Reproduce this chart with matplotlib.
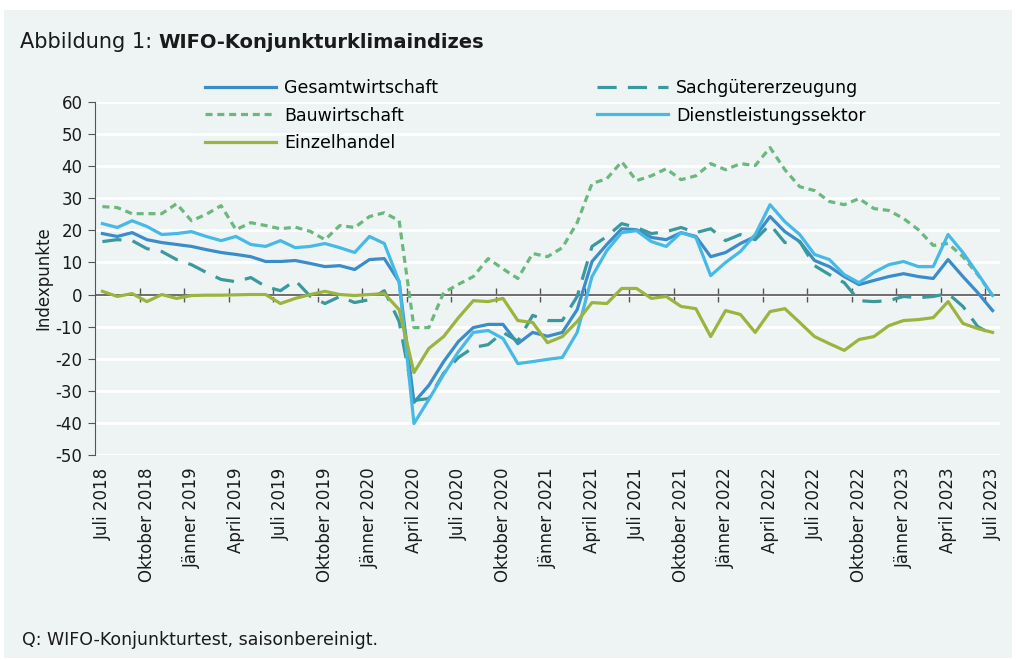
import numpy as np
import matplotlib
matplotlib.use("Agg")
import matplotlib.pyplot as plt
from matplotlib.patches import Rectangle

plt.rcParams['font.family'] = ['DejaVu Sans']
plt.rcParams['axes.unicode_minus'] = False

# Monatswerte Juli 2018 bis Juli 2023
gesamt = [19, 18.1, 19.3, 17.1, 16.2, 15.6, 15, 14, 13.1, 12.5, 11.8, 10.3, 10.3, 10.6, 9.7,
          8.7, 9, 7.8, 10.9, 11.2, 4, -33.6, -28.3, -20.9, -14.6, -10.3, -9.3, -9.3, -15.3,
          -11.8, -13, -11.8, -4.7, 10.3, 15.6, 20.5, 20.2, 17.8, 17.1, 19.3, 18.1, 11.8, 13.1,
          15.9, 18.1, 24.3, 19.6, 16.5, 10.6, 8.7, 5.6, 3.1, 4.4, 5.6, 6.5, 5.6, 5, 10.9, 5.6,
          0.6, -5]
sachgueter = [16.5, 17.1, 16.8, 14.3, 13.4, 10.9, 9.3, 6.9, 4.7, 4, 5.3, 2.5, 1.2, 4.4, -0.5,
              -2.8, -0.6, -2.5, -1.6, 1.2, -8.4, -33, -32.4, -24.5, -19.6, -16.5, -15.6, -11.8,
              -14.5, -6.5, -8.1, -8.1, -0.6, 15, 18.1, 22.1, 20.9, 19, 19.6, 20.9, 19.3, 20.5,
              16.8, 18.7, 17.1, 21.8, 16.2, 16.5, 9, 6.2, 3.7, -1.9, -2.2, -1.9, -0.6, -1, -0.6,
              0.3, -3.7, -10, -12.5]
bau = [27.4, 27.1, 25.2, 25.2, 25.2, 28.3, 23, 25, 27.7, 20.2, 22.4, 21.5, 20.5, 21, 19.7,
       17.1, 21.5, 20.9, 24.3, 25.5, 23, -10.3, -10.3, 0.6, 3.2, 5.6, 11.2, 8, 5, 12.8, 11.8,
       14.6, 22.4, 34.6, 36.1, 41.4, 35.5, 37, 39.2, 35.8, 37, 40.8, 38.9, 40.8, 40.2, 45.8,
       38.9, 33.6, 32.4, 29, 28, 29.9, 26.8, 26.2, 23.7, 20.2, 15.3, 15.9, 11.8, 6.2, -0.3]
dienst = [22.1, 20.9, 23, 21.2, 18.7, 19, 19.6, 18.1, 16.8, 18.1, 15.6, 15, 16.8, 14.6, 15,
          15.9, 14.6, 13.1, 18.1, 15.9, 4, -40.2, -32.7, -24.9, -17.8, -11.8, -11.2, -13.7,
          -21.5, -20.9, -20.2, -19.6, -11.8, 5.6, 13.7, 19.3, 19.9, 16.5, 15, 19.3, 17.8, 5.9,
          10, 13.4, 18.7, 28, 22.7, 18.7, 12.5, 10.9, 6.2, 3.7, 6.9, 9.3, 10.3, 8.7, 8.7, 18.7,
          13.1, 6.5, -0.3]
einzel = [1, -0.6, 0.3, -2.2, 0, -1.2, -0.3, -0.2, -0.2, -0.1, 0, 0, -2.8, -1.2, 0, 1, 0,
          -0.3, 0, 0.3, -4.7, -24.3, -16.8, -13.1, -7.2, -1.9, -2.2, -1.2, -8.1, -8.7, -15,
          -13.1, -8.4, -2.5, -2.8, 1.9, 1.9, -1.2, -0.6, -3.7, -4.4, -13.1, -5, -6.2, -11.8,
          -5.3, -4.4, -8.7, -13.1, -15.3, -17.4, -14, -13.1, -9.7, -8.1, -7.8, -7.2, -2.2, -9,
          -10.6, -11.8]

tick_labels = ["Juli 2018", "Oktober 2018", "Jänner 2019", "April 2019", "Juli 2019",
               "Oktober 2019", "Jänner 2020", "April 2020", "Juli 2020", "Oktober 2020",
               "Jänner 2021", "April 2021", "Juli 2021", "Oktober 2021", "Jänner 2022",
               "April 2022", "Juli 2022", "Oktober 2022", "Jänner 2023", "April 2023",
               "Juli 2023"]

W, H = 1016, 660
fig = plt.figure(figsize=(W / 100, H / 100), dpi=100, facecolor='white')
bg = '#EEF4F4'
fig.patches.append(Rectangle((4 / W, 2 / H), 1008 / W, 648 / H, transform=fig.transFigure,
                             facecolor=bg, edgecolor='none', zorder=-10))

ax = fig.add_axes([95 / W, 1 - 455 / H, 905 / W, 353 / H])
ax.set_facecolor('none')

x = np.arange(len(gesamt))
lw = 2.3
ax.plot(x, gesamt, color='#3A8DC8', lw=lw, label='Gesamtwirtschaft', zorder=3)
ax.plot(x, sachgueter, color='#3A999C', lw=lw, dashes=(6, 3.5), label='Sachgütererzeugung', zorder=3)
ax.plot(x, bau, color='#6BB87E', lw=lw, dashes=(2.2, 1.5), label='Bauwirtschaft', zorder=3)
ax.plot(x, dienst, color='#47B9E6', lw=lw, label='Dienstleistungssektor', zorder=3)
ax.plot(x, einzel, color='#9AB43E', lw=lw, label='Einzelhandel', zorder=4)

ax.set_xlim(-0.5, len(gesamt) - 0.5)
ax.set_ylim(-50, 60)
ax.set_yticks(np.arange(-50, 61, 10))
ax.yaxis.grid(True, color='white', lw=2)
ax.set_axisbelow(True)

for s in ['top', 'right', 'bottom']:
    ax.spines[s].set_visible(False)
ax.spines['left'].set_color('#555555')
ax.tick_params(axis='y', direction='out', length=5, color='#555555', labelsize=12,
               labelcolor='#1a1a1a', pad=4)

ax.set_xticks(x[::3])
ax.set_xticklabels(tick_labels, rotation=90, fontsize=12, color='#1a1a1a')
ax.tick_params(axis='x', length=0, pad=9)

# Nulllinie mit kreuzenden Teilstrichen
ax.axhline(0, color='#555555', lw=1.2, zorder=2)
zero = ax.secondary_xaxis(50 / 110)
zero.spines['bottom'].set_visible(False)
zero.set_xticks(np.arange(2.5, len(gesamt), 3))
zero.tick_params(axis='x', direction='inout', length=10, color='#555555', width=1,
                 labelbottom=False)

ax.set_ylabel('Indexpunkte', fontsize=12, color='#1a1a1a', labelpad=2)

h, l = ax.get_legend_handles_labels()
fig.legend([h[0], h[2], h[4]], [l[0], l[2], l[4]], loc='upper left',
           bbox_to_anchor=(205 / W, 1 - 79 / H), frameon=False, fontsize=12.5,
           handlelength=4.1, handletextpad=0.45, labelspacing=0.55,
           borderpad=0, borderaxespad=0)
fig.legend([h[1], h[3]], [l[1], l[3]], loc='upper left',
           bbox_to_anchor=(597 / W, 1 - 79 / H), frameon=False, fontsize=12.5,
           handlelength=4.1, handletextpad=0.45, labelspacing=0.55,
           borderpad=0, borderaxespad=0)

t1 = fig.text(20 / W, 1 - 42 / H, 'Abbildung 1: ', fontsize=15, va='center', ha='left',
              color='#1a1a1a')
r = fig.canvas.get_renderer()
bb = t1.get_window_extent(renderer=r)
fig.text(bb.x1 / W, 1 - 42 / H, 'WIFO-Konjunkturklimaindizes', fontsize=14,
         fontweight='bold', va='center', ha='left', color='#1a1a1a')

fig.text(22 / W, 1 - 640 / H, 'Q: WIFO-Konjunkturtest, saisonbereinigt.', fontsize=12.5,
         va='center', ha='left', color='#1a1a1a')

fig.savefig('out.png', dpi=100, facecolor='white')
